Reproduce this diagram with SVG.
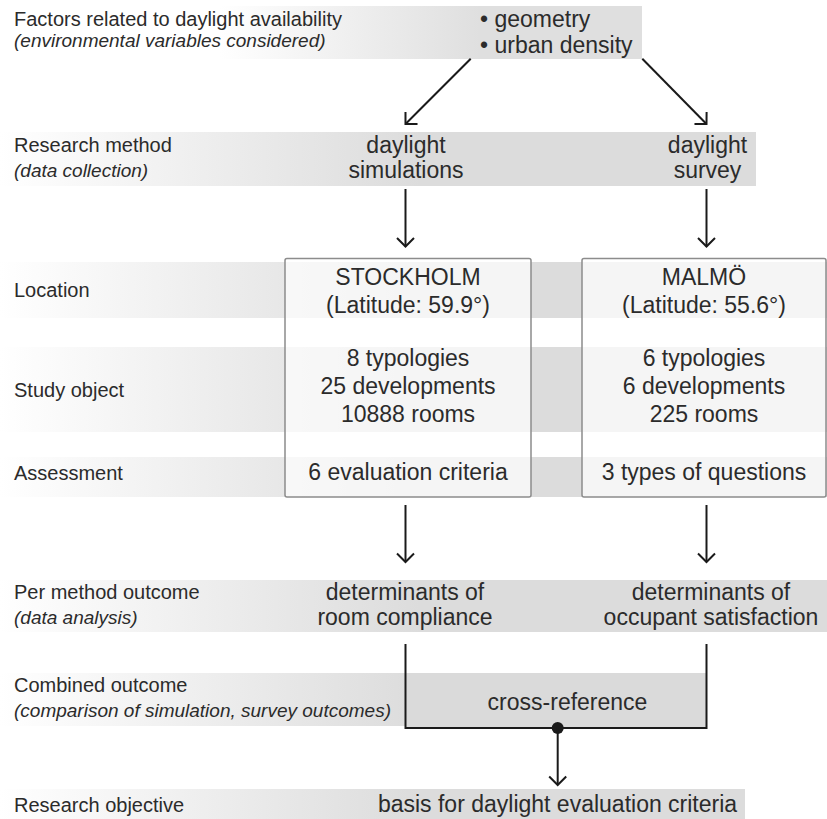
<svg xmlns="http://www.w3.org/2000/svg" width="827" height="819" viewBox="0 0 827 819">
<defs>
<linearGradient id="fadeL" gradientUnits="userSpaceOnUse" x1="0" y1="0" x2="420" y2="0">
<stop offset="0" stop-color="#ffffff"/><stop offset="1" stop-color="#dcdcdc"/>
</linearGradient>
<linearGradient id="fadeTop" gradientUnits="userSpaceOnUse" x1="220" y1="0" x2="480" y2="0">
<stop offset="0" stop-color="#ffffff"/><stop offset="1" stop-color="#dfdfdf"/>
</linearGradient>
<marker id="chev" markerUnits="userSpaceOnUse" markerWidth="24" markerHeight="24" viewBox="-12 -12 24 24" refX="0" refY="0" orient="auto">
<path d="M-8.5,-8.5 L0,0 L-8.5,8.5" fill="none" stroke="#1a1a1a" stroke-width="2"/>
</marker>
</defs>
<style>
text{font-family:"Liberation Sans",Arial,Helvetica,sans-serif;fill:#2b2b2b}
.lbl{font-size:20px}
.it{font-size:19px;font-style:italic}
.ctr{font-size:23px;text-anchor:middle}
.big{font-size:23px}
.band{fill:url(#fadeL)}
.box{fill:#ffffff;fill-opacity:0.7;stroke:#8c8c8c;stroke-width:1.5}
.con{stroke:#1a1a1a;stroke-width:2;fill:none}
.arr{marker-end:url(#chev)}
</style>

<g id="bands">
<rect x="0" y="6" width="642" height="53" fill="url(#fadeTop)"/>
<rect class="band" x="0" y="132" width="756" height="54"/>
<rect class="band" x="0" y="262" width="827" height="56"/>
<rect class="band" x="0" y="347" width="827" height="85"/>
<rect class="band" x="0" y="457" width="827" height="40"/>
<rect class="band" x="0" y="580" width="827" height="52"/>
<rect class="band" x="0" y="673" width="406" height="53"/>
<rect class="band" x="0" y="789" width="745" height="30"/>
</g>

<g id="row-factors">
<text class="lbl" x="14" y="26">Factors related to daylight availability</text>
<text class="it" x="14" y="47">(environmental variables considered)</text>
</g>
<g id="node-factors">
<text class="big" x="480" y="27">• geometry</text>
<text class="big" x="480" y="52.5">• urban density</text>
</g>

<g id="row-method">
<text class="lbl" x="14" y="152">Research method</text>
<text class="it" x="14" y="177">(data collection)</text>
</g>
<g id="node-simulations">
<text class="ctr" x="406" y="153">daylight</text>
<text class="ctr" x="406" y="178">simulations</text>
</g>
<g id="node-survey">
<text class="ctr" x="707.5" y="153">daylight</text>
<text class="ctr" x="707.5" y="178">survey</text>
</g>

<g id="row-labels">
<text class="lbl" x="14" y="296.5">Location</text>
<text class="lbl" x="14" y="396.5">Study object</text>
<text class="lbl" x="14" y="480">Assessment</text>
</g>

<g id="node-stockholm">
<rect class="box" x="285" y="258.5" width="246" height="238.5" rx="2"/>
<text class="ctr" x="408" y="285">STOCKHOLM</text>
<text class="ctr" x="408" y="313">(Latitude: 59.9°)</text>
<text class="ctr" x="408" y="366">8 typologies</text>
<text class="ctr" x="408" y="394">25 developments</text>
<text class="ctr" x="408" y="422">10888 rooms</text>
<text class="ctr" x="408" y="480">6 evaluation criteria</text>
</g>
<g id="node-malmo">
<rect class="box" x="582" y="258.5" width="244" height="238.5" rx="2"/>
<text class="ctr" x="704" y="285">MALMÖ</text>
<text class="ctr" x="704" y="313">(Latitude: 55.6°)</text>
<text class="ctr" x="704" y="366">6 typologies</text>
<text class="ctr" x="704" y="394">6 developments</text>
<text class="ctr" x="704" y="422">225 rooms</text>
<text class="ctr" x="704" y="480">3 types of questions</text>
</g>

<g id="row-outcome">
<text class="lbl" x="14" y="598.5">Per method outcome</text>
<text class="it" x="14" y="623.5">(data analysis)</text>
</g>
<g id="node-compliance">
<text class="ctr" x="405" y="600">determinants of</text>
<text class="ctr" x="405" y="625">room compliance</text>
</g>
<g id="node-satisfaction">
<text class="ctr" x="711" y="600">determinants of</text>
<text class="ctr" x="711" y="625">occupant satisfaction</text>
</g>

<g id="row-combined">
<text class="lbl" x="14" y="692">Combined outcome</text>
<text class="it" x="14" y="717">(comparison of simulation, survey outcomes)</text>
</g>
<g id="node-crossref">
<rect x="405.5" y="673" width="301" height="55" fill="#dadada"/>
<text class="ctr" x="567.5" y="710">cross-reference</text>
</g>

<g id="row-objective">
<text class="lbl" x="14" y="812">Research objective</text>
</g>
<g id="node-objective">
<text class="ctr" x="557.5" y="812">basis for daylight evaluation criteria</text>
</g>

<g id="connectors">
<line class="con arr" x1="470.7" y1="58.7" x2="405.5" y2="124"/>
<line class="con arr" x1="642.3" y1="58.7" x2="706.5" y2="124"/>
<line class="con arr" x1="405.5" y1="189" x2="405.5" y2="246.5"/>
<line class="con arr" x1="706.5" y1="189" x2="706.5" y2="246.5"/>
<line class="con arr" x1="405.5" y1="505" x2="405.5" y2="562"/>
<line class="con arr" x1="706.5" y1="505" x2="706.5" y2="562"/>
<path class="con" d="M405.5,644 V728 H706.5 V644"/>
<circle cx="557.7" cy="728" r="6" fill="#1a1a1a"/>
<line class="con arr" x1="557.7" y1="728" x2="557.7" y2="785"/>
</g>
</svg>
